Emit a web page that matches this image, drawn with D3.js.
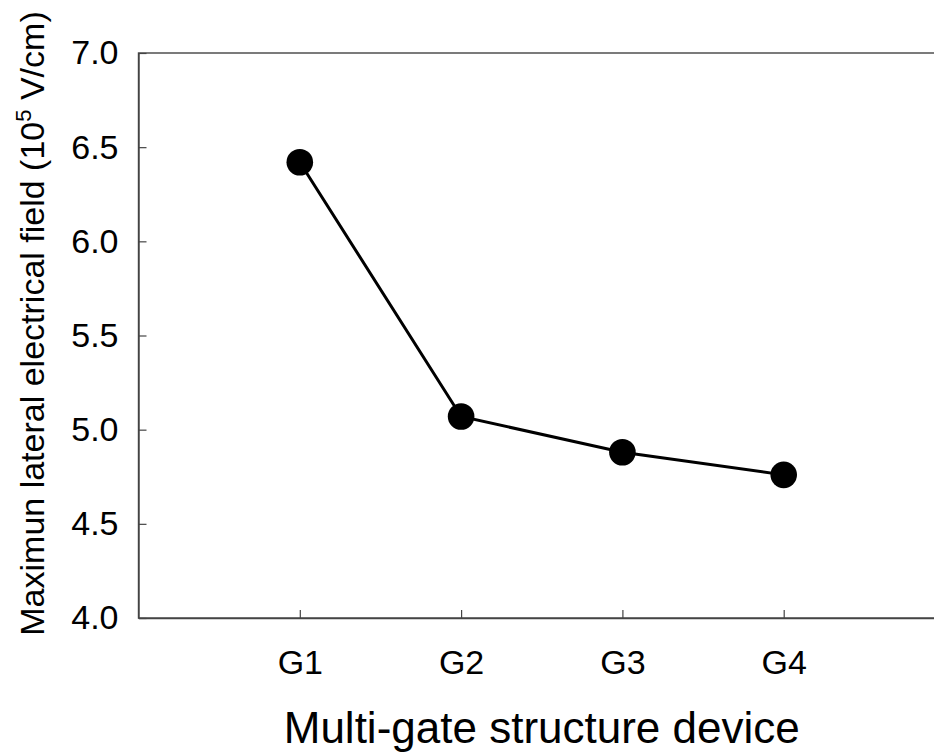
<!DOCTYPE html>
<html>
<head>
<meta charset="utf-8">
<script src="https://cdn.jsdelivr.net/npm/d3@7"></script>
<style>
  html, body { margin: 0; padding: 0; background: #fff; }
  svg { display: block; font-family: "Liberation Sans", Arial, sans-serif; }
</style>
</head>
<body>
<svg id="chart" width="934" height="756"></svg>
<script>
// Device categories and the peak lateral field for each (10^5 V/cm)
const devices = ["G1", "G2", "G3", "G4"];
const fieldValues = [6.42, 5.07, 4.88, 4.76];
const yTicks = [4.0, 4.5, 5.0, 5.5, 6.0, 6.5, 7.0];

const svg = d3.select("#chart");
const plotLeft = 138.5, plotRight = 945, plotTop = 53, plotBottom = 618;

// Categories sit at positions 1..4 on a 0..5 slot axis
const x = d3.scaleLinear().domain([0, devices.length + 1]).range([plotLeft, plotRight]);
const y = d3.scaleLinear().domain([4.0, 7.0]).range([plotBottom, plotTop]);

const axisColor = "#444";

// Frame
svg.append("rect")
  .attr("x", plotLeft).attr("y", plotTop)
  .attr("width", plotRight - plotLeft).attr("height", plotBottom - plotTop)
  .attr("fill", "none").attr("stroke", axisColor).attr("stroke-width", 1.4);

// Y axis, ticks pointing inward
const yAxis = svg.append("g")
  .attr("transform", `translate(${plotLeft},0)`)
  .call(d3.axisLeft(y).tickValues(yTicks).tickFormat(d3.format(".1f"))
    .tickSizeInner(-8).tickSizeOuter(0).tickPadding(20));
yAxis.select(".domain").attr("stroke", axisColor).attr("stroke-width", 1.4);
yAxis.selectAll(".tick line").attr("stroke", axisColor).attr("stroke-width", 1.2);
yAxis.selectAll(".tick text").attr("font-size", 34).attr("fill", "#000")
  .attr("font-family", "Liberation Sans, Arial, sans-serif");

// X axis with category labels
const xAxis = svg.append("g")
  .attr("transform", `translate(0,${plotBottom})`)
  .call(d3.axisBottom(x).tickValues(devices.map((d, i) => i + 1))
    .tickFormat(i => devices[i - 1])
    .tickSizeInner(-8).tickSizeOuter(0).tickPadding(32));
xAxis.select(".domain").attr("stroke", axisColor).attr("stroke-width", 1.4);
xAxis.selectAll(".tick line").attr("stroke", axisColor).attr("stroke-width", 1.2);
xAxis.selectAll(".tick text").attr("font-size", 34).attr("fill", "#000")
  .attr("font-family", "Liberation Sans, Arial, sans-serif");

// Data line and markers
const pts = devices.map((d, i) => [x(i + 1), y(fieldValues[i])]);
svg.append("path")
  .attr("d", d3.line()(pts))
  .attr("fill", "none").attr("stroke", "#000").attr("stroke-width", 3);
svg.selectAll("circle.pt").data(pts).join("circle")
  .attr("class", "pt")
  .attr("cx", d => d[0]).attr("cy", d => d[1]).attr("r", 13.3)
  .attr("fill", "#000");

// X title
svg.append("text")
  .attr("x", (plotLeft + plotRight) / 2).attr("y", 743)
  .attr("text-anchor", "middle").attr("font-size", 44).attr("fill", "#000")
  .text("Multi-gate structure device");

// Y title with superscript exponent
const yTitle = svg.append("text")
  .attr("transform", `translate(44,${(plotTop + plotBottom) / 2 - 12}) rotate(-90)`)
  .attr("text-anchor", "middle").attr("font-size", 34).attr("fill", "#000");
yTitle.append("tspan").text("Maximun lateral electrical field (10");
yTitle.append("tspan").attr("dy", -13).attr("font-size", 22).text("5");
yTitle.append("tspan").attr("dy", 13).text(" V/cm)");
</script>
</body>
</html>
